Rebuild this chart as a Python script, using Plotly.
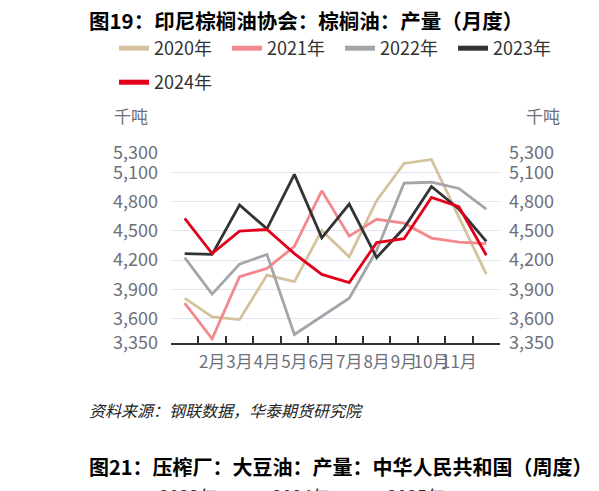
import plotly.graph_objects as go

months = ["1月", "2月", "3月", "4月", "5月", "6月", "7月", "8月", "9月", "10月", "11月", "12月"]
shown_months = months[1:11]

series_names = ["2020年", "2021年", "2022年", "2023年", "2024年"]
v2020 = [3810, 3617, 3590, 4047, 3980, 4505, 4234, 4810, 5193, 5234, 4641, 4058]
v2021 = [3759, 3393, 4030, 4115, 4342, 4912, 4447, 4620, 4580, 4427, 4386, 4369]
v2022 = [4227, 3851, 4159, 4258, 3437, 3624, 3810, 4300, 4990, 5000, 4936, 4725]
v2023 = [4268, 4260, 4766, 4522, 5081, 4430, 4776, 4227, 4530, 4956, 4725, 4393]
v2024 = [4630, 4268, 4498, 4515, 4268, 4054, 3970, 4380, 4420, 4844, 4749, 4251]

y_ticks = [3350, 3600, 3900, 4200, 4500, 4800, 5100, 5300]
y_min, y_max = 3350, 5300

colors = ["#d4c29e", "#f4898d", "#a4a5a8", "#333333", "#e2001a"]
values = [v2020, v2021, v2022, v2023, v2024]

FONT = "Noto Sans CJK SC"
OFF = 8  # page body margin
W, H = 599 - OFF, 491 - OFF
PW, PH = 329, 190
ML, MT = 171 - OFF, 153 - OFF
MR, MB = W - ML - PW, H - MT - PH


def px(x):
    """reference window pixel x -> paper fraction"""
    return (x - OFF - ML) / PW


def py(y):
    """reference window pixel y -> paper fraction"""
    return (MT + PH - (y - OFF)) / PH


fig = go.Figure()

for name, vals, col in zip(series_names, values, colors):
    fig.add_trace(go.Scatter(
        x=months, y=vals, mode="lines", name=name,
        line=dict(color=col, width=2.8), showlegend=False,
        hoverinfo="skip",
    ))

# legend entries (thicker swatches)
for i, (name, col) in enumerate(zip(series_names, colors)):
    fig.add_trace(go.Scatter(
        x=[None], y=[None], mode="lines", name=name,
        line=dict(color=col, width=5),
        xaxis="x2", yaxis="y2",
        legend="legend" if i < 4 else "legend2",
    ))

tick_font = dict(family=FONT, size=18, color="#6e7079")

fig.update_layout(
    width=W, height=H,
    margin=dict(l=ML, r=MR, t=MT, b=MB, pad=0),
    paper_bgcolor="white", plot_bgcolor="white",
    font=dict(family=FONT, color="#333333"),
    showlegend=True,
    xaxis=dict(
        type="category", categoryorder="array", categoryarray=months,
        range=[-0.5, len(months) - 0.5],
        tickmode="array", tickvals=shown_months, ticktext=shown_months,
        ticks="", tickangle=0, showgrid=False, zeroline=False,
        showline=True, linecolor="#333333", linewidth=1.5,
        tickfont=dict(family=FONT, size=17, color="#6e7079"),
        ticklabelstandoff=3,
    ),
    xaxis2=dict(
        overlaying="x", type="linear",
        range=[-0.5, len(months) - 0.5],
        tickmode="array", tickvals=[i + 0.5 for i in range(len(months) - 1)],
        ticks="inside", ticklen=7, tickwidth=1.5, tickcolor="#333333",
        showticklabels=False, showgrid=False, zeroline=False, showline=False,
    ),
    yaxis=dict(
        range=[y_min, y_max], tickmode="array", tickvals=y_ticks,
        tickformat=",d", showgrid=True, gridcolor="#e0e6f1", gridwidth=1,
        zeroline=False, showline=False, ticks="",
        tickfont=tick_font, ticklabelstandoff=12,
    ),
    yaxis2=dict(
        overlaying="y", side="right", anchor="x",
        range=[y_min, y_max], tickmode="array", tickvals=y_ticks,
        tickformat=",d", showgrid=False, zeroline=False, showline=False,
        ticks="", tickfont=tick_font, ticklabelstandoff=8,
    ),
    legend=dict(
        orientation="h", x=px(114), y=py(30), xanchor="left", yanchor="top",
        font=dict(family=FONT, size=18, color="#333333"),
        entrywidth=68, entrywidthmode="pixels",
        itemwidth=30, bgcolor="rgba(0,0,0,0)", borderwidth=0,
        tracegroupgap=0,
    ),
    legend2=dict(
        orientation="h", x=px(114), y=py(64), xanchor="left", yanchor="top",
        font=dict(family=FONT, size=18, color="#333333"),
        itemwidth=30, bgcolor="rgba(0,0,0,0)", borderwidth=0,
    ),
)

annotations = [
    dict(text="<b>图19：印尼棕榈油协会：棕榈油：产量（月度）</b>", x=px(87), y=py(20),
         xanchor="left", yanchor="middle", font=dict(family=FONT, size=20.5, color="#000000")),
    dict(text="<b>图20：</b>", x=px(594), y=py(20),
         xanchor="left", yanchor="middle", font=dict(family=FONT, size=20.5, color="#000000")),
    dict(text="千吨", x=px(112), y=py(115), xanchor="left", yanchor="middle",
         font=dict(family=FONT, size=17, color="#6e7079")),
    dict(text="千吨", x=px(524), y=py(115), xanchor="left", yanchor="middle",
         font=dict(family=FONT, size=17, color="#6e7079")),
    dict(text="<i>资料来源：钢联数据，华泰期货研究院</i>", x=px(87), y=py(410),
         xanchor="left", yanchor="middle", font=dict(family=FONT, size=16, color="#222222")),
    dict(text="<i>资料</i>", x=px(595), y=py(410),
         xanchor="left", yanchor="middle", font=dict(family=FONT, size=16, color="#222222")),
    dict(text="<b>图21：压榨厂：大豆油：产量：中华人民共和国（周度）</b>", x=px(87), y=py(466),
         xanchor="left", yanchor="middle", font=dict(family=FONT, size=20, color="#000000")),
]
for xx, t in [(157, "2023年"), (270, "2024年"), (385, "2025年")]:
    annotations.append(dict(text=t, x=px(xx), y=py(496), xanchor="left", yanchor="middle",
                            font=dict(family=FONT, size=18, color="#333333")))

for a in annotations:
    a.update(xref="paper", yref="paper", showarrow=False)
fig.update_layout(annotations=annotations)

fig.write_html("out.html")
